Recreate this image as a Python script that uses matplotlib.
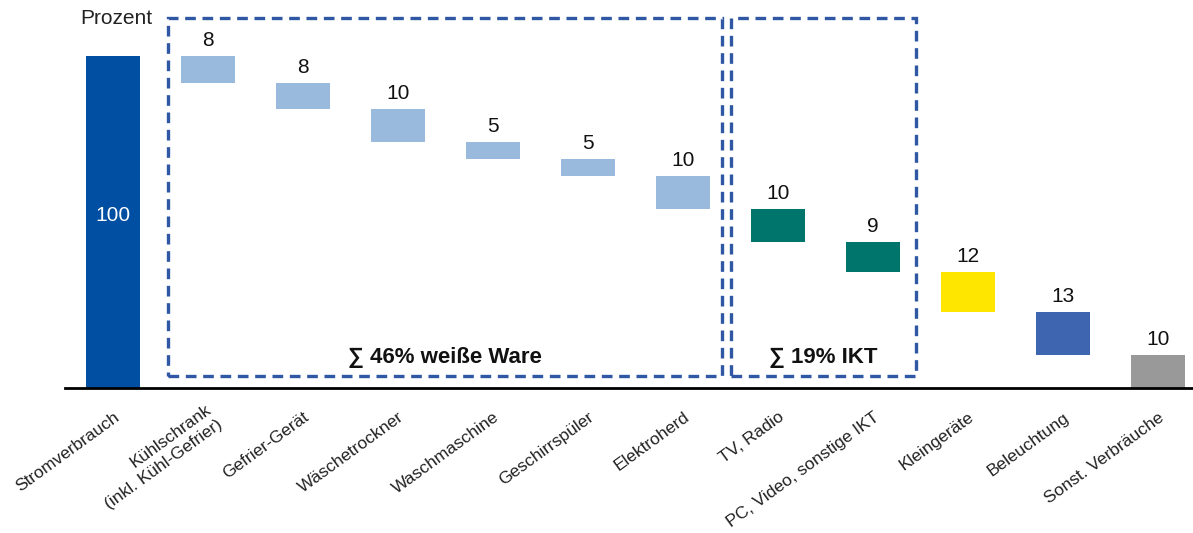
import matplotlib.pyplot as plt
import matplotlib.transforms as mtransforms
from matplotlib.patches import Rectangle

categories = ["Stromverbrauch", "Kühlschrank\n(inkl. Kühl-Gefrier)", "Gefrier-Gerät",
              "Wäschetrockner", "Waschmaschine", "Geschirrspüler", "Elektroherd",
              "TV, Radio", "PC, Video, sonstige IKT", "Kleingeräte", "Beleuchtung",
              "Sonst. Verbräuche"]
values = [100, 8, 8, 10, 5, 5, 10, 10, 9, 12, 13, 10]
colors = ["#004fa3", "#99badd", "#99badd", "#99badd", "#99badd", "#99badd", "#99badd",
          "#00756b", "#00756b", "#ffe600", "#3e66b0", "#999999"]
group_labels = ["∑ 46% weiße Ware", "∑ 19% IKT"]

plt.rcParams["font.family"] = ["Liberation Sans", "DejaVu Sans"]

fig = plt.figure(figsize=(11.93, 5.33), dpi=100)
ax = fig.add_axes([65 / 1193, 145 / 533, 1128 / 1193, 115 * 3.32 / 533])

# waterfall: total bar, then each share hangs down from the running remainder
bottoms = [0]
top = values[0]
for v in values[1:]:
    bottoms.append(top - v)
    top -= v
x = list(range(len(values)))
ax.bar(x, values, bottom=bottoms, width=0.57, color=colors)

ax.text(0, values[0] * 0.52, str(values[0]), ha="center", va="center",
        color="white", fontsize=15)
for i in x[1:]:
    ax.text(i, bottoms[i] + values[i] + 1.8, str(values[i]), ha="center",
            va="bottom", fontsize=15, color="#111111")

# dashed group boxes
box_color = "#2f57a3"
for x0, x1, lab in [(0.58, 6.41, group_labels[0]), (6.505, 8.45, group_labels[1])]:
    ax.add_patch(Rectangle((x0, 3.6), x1 - x0, 107.8, fill=False, ec=box_color,
                           lw=2.4, ls=(0, (3.2, 2)), clip_on=False))
    ax.text((x0 + x1) / 2, 6.0, lab, ha="center", va="bottom",
            fontsize=16, fontweight="bold", color="#111111")

ax.text(0.04, 108.5, "Prozent", ha="center", va="bottom", fontsize=15, color="#222222")

ax.set_xlim(-0.505, 11.37)
ax.set_ylim(0, 115)
ax.set_xticks(x)
ax.set_xticklabels(categories, rotation=36, ha="right", rotation_mode="anchor",
                   fontsize=12.5, color="#222222", linespacing=1.3)
ax.tick_params(axis="x", length=0, pad=15.5)
for lab in ax.get_xticklabels():
    dx, dy = (-3, 8) if "\n" in lab.get_text() else (0, 0)
    shift = mtransforms.ScaledTranslation(dx / 100, dy / 100, fig.dpi_scale_trans)
    lab.set_transform(lab.get_transform() + shift)
ax.set_yticks([])
for s in ["top", "right", "left"]:
    ax.spines[s].set_visible(False)
ax.spines["bottom"].set_linewidth(2)

fig.savefig("out.png", dpi=100)
